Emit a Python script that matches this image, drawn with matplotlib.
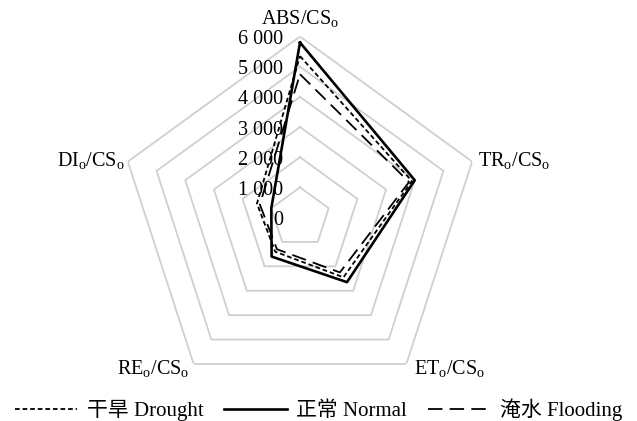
import numpy as np
import matplotlib
matplotlib.use('Agg')
import matplotlib.pyplot as plt
from matplotlib.lines import Line2D

plt.rcParams['font.family'] = ['Liberation Serif', 'Noto Sans CJK SC']
plt.rcParams['mathtext.fontset'] = 'custom'
plt.rcParams['mathtext.rm'] = 'Liberation Serif'
plt.rcParams['mathtext.it'] = 'Liberation Serif:italic'

# 叶绿素荧光参数（单位面积）
labels = [r'ABS/CS$_\mathrm{o}$', r'TR$_\mathrm{o}$/CS$_\mathrm{o}$',
          r'ET$_\mathrm{o}$/CS$_\mathrm{o}$', r'RE$_\mathrm{o}$/CS$_\mathrm{o}$',
          r'DI$_\mathrm{o}$/CS$_\mathrm{o}$']
drought = [5350, 3900, 2450, 1400, 1500]
normal = [5800, 4000, 2650, 1600, 1000]
flooding = [4750, 3800, 2250, 1300, 1400]
ticks = [0, 1000, 2000, 3000, 4000, 5000, 6000]
tick_labels = ['0', '1 000', '2 000', '3 000', '4 000', '5 000', '6 000']

short_dash = (0, (2.6, 1.6))
long_dash = (0, (8, 4))

n = len(labels)
theta = np.arange(n) * 2 * np.pi / n
theta_c = np.append(theta, theta[0])

fig = plt.figure(figsize=(6.37, 4.21), dpi=100)
ax = fig.add_axes([0.1868, 0.0534, 0.5683, 0.8599], polar=True)
ax.set_theta_offset(np.pi / 2)
ax.set_theta_direction(-1)
ax.set_ylim(0, 6000)
ax.grid(False)
ax.spines['polar'].set_visible(False)
ax.set_xticks([])
ax.set_yticks([])

# 五边形网格
for t in ticks[1:]:
    ax.plot(theta_c, [t] * (n + 1), color='#cfcfcf', lw=1.3, zorder=1)

def closed(v):
    return list(v) + [v[0]]

ax.plot(theta_c, closed(drought), color='black', lw=1.3, ls=short_dash, zorder=3)
ax.plot(theta_c, closed(normal), color='black', lw=1.9, ls='-', zorder=4)
ax.plot(theta_c, closed(flooding), color='black', lw=1.3, ls=long_dash, zorder=3)

# 刻度标签
for t, s in zip(ticks, tick_labels):
    ax.annotate(s, xy=(0, t), xytext=(-17, -3), textcoords='offset pixels',
                ha='right', va='center', fontsize=14.5, zorder=5)

# 轴标签
offsets = [(0, 18, 'center', 'center'), (6, 1, 'left', 'center'),
           (8, -5, 'left', 'center'), (-4, -5, 'right', 'center'),
           (-3, 1, 'right', 'center')]
for th, lab, (dx, dy, ha, va) in zip(theta, labels, offsets):
    ax.annotate(lab, xy=(th, 6000), xytext=(dx, dy), textcoords='offset pixels',
                ha=ha, va=va, fontsize=14.5, annotation_clip=False)

handles = [Line2D([], [], color='black', lw=1.3, ls=short_dash),
           Line2D([], [], color='black', lw=1.9),
           Line2D([], [], color='black', lw=1.3, ls=long_dash)]
fig.legend(handles, ['干旱 Drought', '正常 Normal', '淹水 Flooding'],
           loc='lower center', bbox_to_anchor=(0.5, -0.045), ncol=3, frameon=False,
           fontsize=15, handlelength=3.0, handletextpad=0.45, columnspacing=1.0)

fig.savefig('out.png', dpi=100, facecolor='white')
